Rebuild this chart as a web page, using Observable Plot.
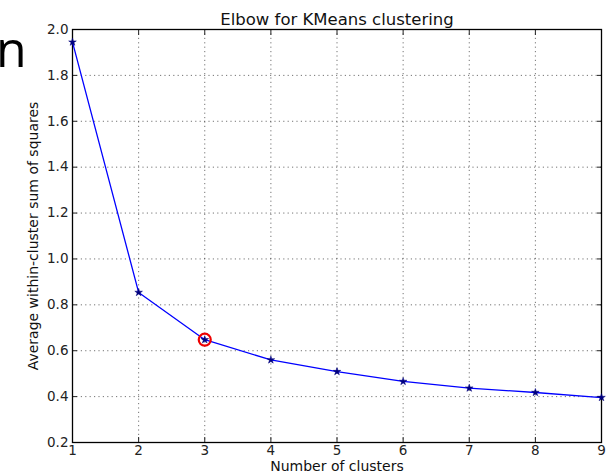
<!DOCTYPE html>
<html>
<head>
<meta charset="utf-8">
<script src="https://cdn.jsdelivr.net/npm/d3@7"></script>
<script src="https://cdn.jsdelivr.net/npm/@observablehq/plot@0.6"></script>
<style>
  html, body { margin: 0; padding: 0; background: #fff; }
  #wrap { position: relative; width: 609px; height: 473px; overflow: hidden; }
  #slide { position: absolute; left: -4px; top: 23px; font-family: "Open Sans", "DejaVu Sans", sans-serif; font-size: 50px; color: #000; line-height: 1; }
  #chart { position: absolute; left: 0; top: 0; }
</style>
</head>
<body>
<div id="wrap">
  <div id="chart"></div>
  <div id="slide">n</div>
</div>
<script>
const clusters = [1, 2, 3, 4, 5, 6, 7, 8, 9];
const avgWithinSS = [1.945, 0.854, 0.648, 0.560, 0.509, 0.466, 0.437, 0.418, 0.396];
const xTicks = [1, 2, 3, 4, 5, 6, 7, 8, 9];
const yTicks = [0.2, 0.4, 0.6, 0.8, 1.0, 1.2, 1.4, 1.6, 1.8, 2.0];
const chosenK = 3;
const titleText = "Elbow for KMeans clustering";
const xLabel = "Number of clusters";
const yLabel = "Average within-cluster sum of squares";

const data = clusters.map((k, i) => ({k, v: avgWithinSS[i]}));
const chosen = data.filter(d => d.k === chosenK);

const font = "DejaVu Sans, sans-serif";

const chart = Plot.plot({
  width: 609,
  height: 473,
  marginLeft: 72,
  marginRight: 8,
  marginTop: 29,
  marginBottom: 31,
  style: {fontFamily: font, fontSize: "13px", color: "#222", background: "#fff"},
  x: {domain: [1, 9]},
  y: {domain: [0.2, 2.0]},
  marks: [
    Plot.gridX(xTicks, {stroke: "#000", strokeOpacity: 0.55, strokeDasharray: "1.2,3.2", strokeWidth: 1}),
    Plot.gridY(yTicks, {stroke: "#000", strokeOpacity: 0.55, strokeDasharray: "1.2,3.2", strokeWidth: 1}),
    Plot.axisX(xTicks, {anchor: "bottom", tickSize: -5, tickPadding: 8, tickFormat: d => String(d), label: null, fontSize: 13.5}),
    Plot.axisX(xTicks, {anchor: "top", tickSize: -5, text: null, label: null}),
    Plot.axisY(yTicks, {anchor: "left", tickSize: -5, tickPadding: 9, tickFormat: d => d.toFixed(1), label: null, fontSize: 13.5}),
    Plot.axisY(yTicks, {anchor: "right", tickSize: -5, text: null, label: null}),
    Plot.frame({stroke: "#000", strokeWidth: 1.3}),
    Plot.line(data, {x: "k", y: "v", stroke: "#0000ff", strokeWidth: 1.3}),
    Plot.dot(data, {x: "k", y: "v", symbol: "star", r: 2.4, fill: "#00007f", stroke: "#00007f", strokeWidth: 0.5}),
    Plot.dot(chosen, {x: "k", y: "v", r: 6, fill: "none", stroke: "#ee0000", strokeWidth: 2.2}),
    Plot.text([titleText], {frameAnchor: "top", dy: -16, fontSize: 16.5, fill: "#111"}),
    Plot.text([xLabel], {frameAnchor: "bottom", dy: 28, fontSize: 14, fill: "#111"}),
    Plot.text([yLabel], {frameAnchor: "left", dx: -39, rotate: -90, textAnchor: "middle", fontSize: 14, fill: "#111"})
  ]
});
document.getElementById("chart").appendChild(chart);
</script>
</body>
</html>
